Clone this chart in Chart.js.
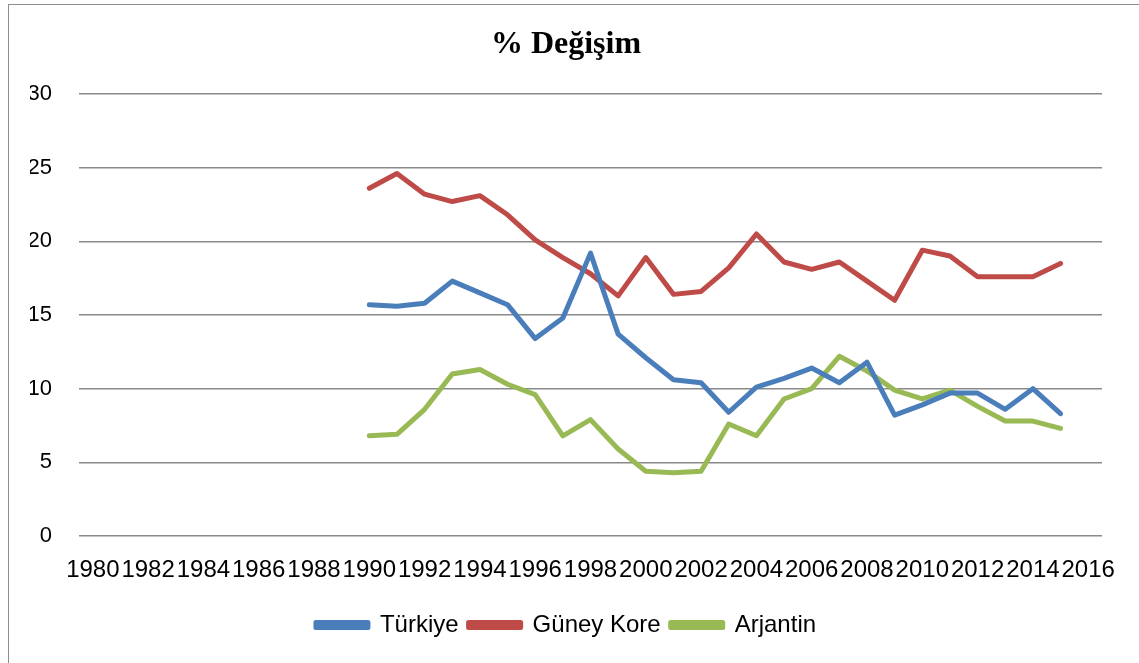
<!DOCTYPE html>
<html lang="tr">
<head>
<meta charset="utf-8">
<title>% Değişim</title>
<script src="https://cdn.jsdelivr.net/npm/chart.js@4.4.1/dist/chart.umd.min.js"></script>
<style>
  html, body { margin:0; padding:0; background:#fff; }
  #wrap { position:relative; width:1139px; height:663px; overflow:hidden; }
  #frame { position:absolute; left:8px; top:4px; right:-2px; bottom:-2px; border-left:1.5px solid #8e8e8e; border-top:1.5px solid #8e8e8e; pointer-events:none; }
  canvas { position:absolute; left:0; top:0; }
</style>
</head>
<body>
<div id="wrap">
  <canvas id="chart" width="1139" height="663"></canvas>
  <div id="frame"></div>
</div>
<script>
// yıllar: 1980–2016, veriler 1990–2015 arası
const years = [];
for (let y = 1980; y <= 2016; y++) years.push(String(y));
const firstYear = 1990;

const turkiye = [15.7, 15.6, 15.8, 17.3, 16.5, 15.7, 13.4, 14.8, 19.2, 13.7, 12.1, 10.6, 10.4, 8.4,
                 10.1, 10.7, 11.4, 10.4, 11.8, 8.2, 8.9, 9.7, 9.7, 8.6, 10.0, 8.3];
const guneyKore = [23.6, 24.6, 23.2, 22.7, 23.1, 21.8, 20.1, 18.9, 17.8, 16.3, 18.9, 16.4, 16.6, 18.2,
                   20.5, 18.6, 18.1, 18.6, 17.3, 16.0, 19.4, 19.0, 17.6, 17.6, 17.6, 18.5];
const arjantin = [6.8, 6.9, 8.6, 11.0, 11.3, 10.3, 9.6, 6.8, 7.9, 5.9, 4.4, 4.3, 4.4, 7.6,
                  6.8, 9.3, 10.0, 12.2, 11.2, 9.9, 9.3, 9.9, 8.8, 7.8, 7.8, 7.3];
const yTicks = [0, 5, 10, 15, 20, 25, 30];

// seriyi tüm yıl eksenine yay (veri olmayan yıllar boş)
const spread = vals => years.map(y => {
  const i = +y - firstYear;
  return i >= 0 && i < vals.length ? vals[i] : null;
});

const font = "'Liberation Sans', Arial, sans-serif";

const line = (label, vals, color) => ({
  label, data: spread(vals), borderColor: color, backgroundColor: color,
  borderWidth: 5, pointRadius: 0, pointHoverRadius: 0, tension: 0,
  borderCapStyle: 'round', borderJoinStyle: 'round', spanGaps: false
});

new Chart(document.getElementById('chart'), {
  type: 'line',
  data: {
    labels: years,
    datasets: [
      line('Türkiye', turkiye, '#4a7ebb'),
      line('Güney Kore', guneyKore, '#be4b48'),
      line('Arjantin', arjantin, '#98b954')
    ]
  },
  options: {
    responsive: false,
    animation: false,
    layout: { padding: { left: 30, right: 37, top: 0, bottom: 16 } },
    plugins: {
      title: {
        display: true, text: '% Değişim', color: '#000',
        font: { family: "'Liberation Serif', 'Times New Roman', serif", size: 32, weight: 'bold' },
        padding: { top: 26, bottom: 29.6 }
      },
      legend: {
        position: 'bottom',
        labels: { color: '#000', font: { family: font, size: 24 }, boxWidth: 52, boxHeight: 5, padding: 10 }
      },
      tooltip: { enabled: false }
    },
    scales: {
      x: {
        offset: true,
        grid: { display: false, drawTicks: false },
        border: { display: false },
        ticks: {
          color: '#000', font: { family: font, size: 24 }, padding: 20,
          autoSkip: false, maxRotation: 0, minRotation: 0,
          callback: (v, i) => i % 2 === 0 ? years[i] : ''
        },
        // yıl etiketleri kenarlardan taşabilir, çizim alanını daraltmasın
        afterFit: s => { s.height = 67; s.paddingLeft = 0; s.paddingRight = 0; }
      },
      y: {
        min: 0, max: 30,
        afterBuildTicks: s => { s.ticks = yTicks.map(v => ({ value: v })); },
        grid: { color: '#8a8a8a', lineWidth: 1.5, drawTicks: false },
        border: { display: false },
        ticks: { color: '#000', font: { family: font, size: 22 }, padding: 27 },
        afterFit: s => { s.width = 49; }
      }
    }
  }
});
</script>
</body>
</html>
